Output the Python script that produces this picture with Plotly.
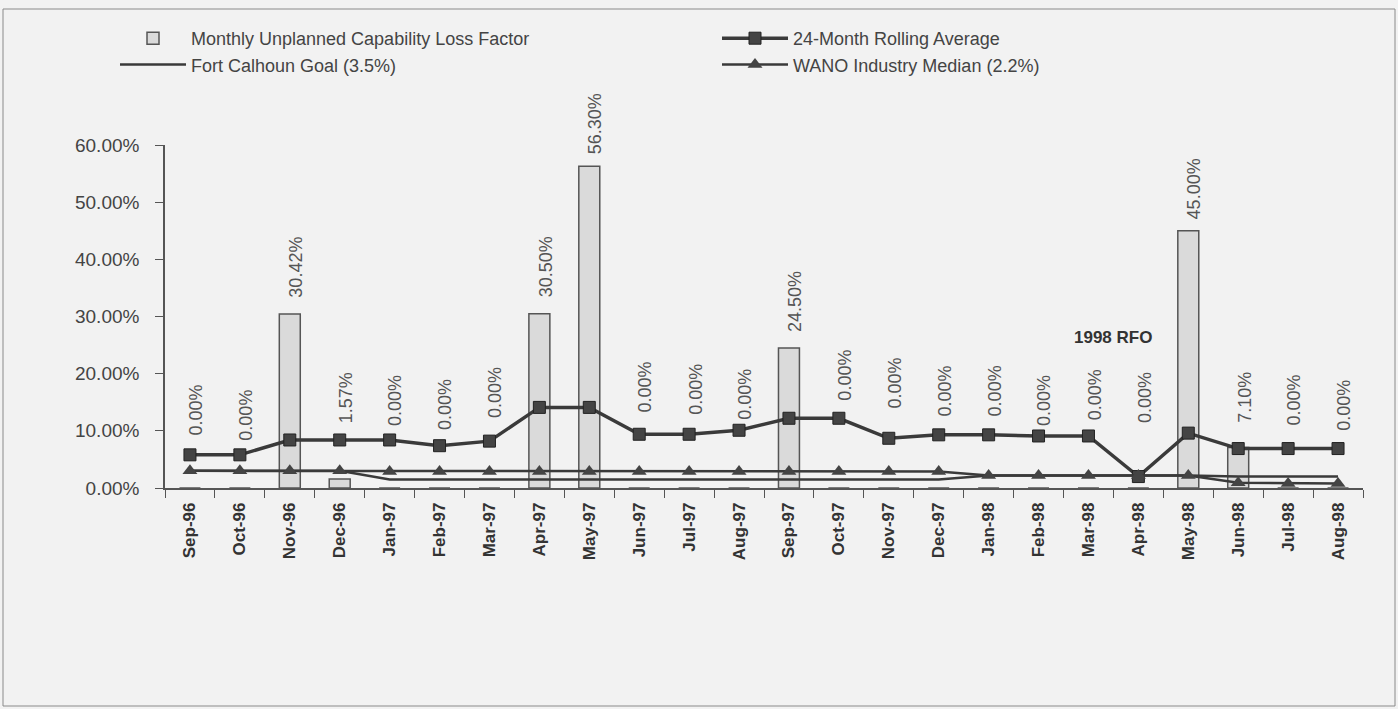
import plotly.graph_objects as go

# Monthly reporting periods
months = ["Sep-96", "Oct-96", "Nov-96", "Dec-96", "Jan-97", "Feb-97", "Mar-97",
          "Apr-97", "May-97", "Jun-97", "Jul-97", "Aug-97", "Sep-97", "Oct-97",
          "Nov-97", "Dec-97", "Jan-98", "Feb-98", "Mar-98", "Apr-98", "May-98",
          "Jun-98", "Jul-98", "Aug-98"]

# Monthly unplanned capability loss factor (%)
monthly_ucl = [0.00, 0.00, 30.42, 1.57, 0.00, 0.00, 0.00, 30.50, 56.30, 0.00,
               0.00, 0.00, 24.50, 0.00, 0.00, 0.00, 0.00, 0.00, 0.00, 0.00,
               45.00, 7.10, 0.00, 0.00]

# 24-month rolling average (%)
rolling_avg = [5.8, 5.8, 8.4, 8.4, 8.4, 7.4, 8.2, 14.1, 14.1, 9.4, 9.4, 10.1,
               12.2, 12.2, 8.7, 9.3, 9.3, 9.1, 9.1, 2.0, 9.6, 6.9, 6.9, 6.9]

# Fort Calhoun goal (%)
goal = [3.0, 3.0, 3.0, 3.0, 1.5, 1.5, 1.5, 1.5, 1.5, 1.5, 1.5, 1.5,
        1.5, 1.5, 1.5, 1.5, 2.2, 2.2, 2.2, 2.2, 2.2, 2.0, 2.0, 2.0]

# WANO industry median (%)
wano_median = [3.0, 3.0, 3.0, 3.0, 2.9, 2.9, 2.9, 2.9, 2.9, 2.9, 2.9, 2.9,
               2.9, 2.9, 2.9, 2.9, 2.2, 2.2, 2.2, 2.2, 2.2, 0.9, 0.8, 0.8]

# Height (in %) at which each monthly value label starts
label_base = [8.9, 8.0, 33.0, 11.0, 10.5, 9.8, 11.9, 33.0, 58.0, 12.8, 12.4, 11.5,
              27.0, 15.0, 13.6, 12.2, 12.2, 10.5, 11.5, 11.0, 46.6, 11.0, 10.5, 9.6]

y_ticks = [0, 10, 20, 30, 40, 50, 60]

FONT = "Arial, Liberation Sans, sans-serif"
INK = "#3a3a3a"
BG = "#f2f2f2"

fig = go.Figure()

fig.add_trace(go.Bar(
    x=months, y=monthly_ucl, name="Monthly Unplanned Capability Loss Factor",
    width=0.42, marker=dict(color="#dadada", line=dict(color="#555555", width=1.5)),
))
fig.add_trace(go.Scatter(
    x=months, y=rolling_avg, name="24-Month Rolling Average", mode="lines+markers",
    line=dict(color=INK, width=3.5),
    marker=dict(symbol="square", size=12, color="#444444", line=dict(color="#222222", width=1)),
))
fig.add_trace(go.Scatter(
    x=months, y=goal, name="Fort Calhoun Goal (3.5%)", mode="lines",
    line=dict(color=INK, width=2.5),
))
fig.add_trace(go.Scatter(
    x=months, y=wano_median, name="WANO Industry Median (2.2%)", mode="lines+markers",
    line=dict(color=INK, width=2.5),
    marker=dict(symbol="triangle-up", size=13, color="#444444"),
))

annotations = []
for m, v, b in zip(months, monthly_ucl, label_base):
    annotations.append(dict(
        x=m, y=b, xref="x", yref="y", text=f"{v:.2f}%", showarrow=False,
        textangle=-90, xanchor="center", yanchor="bottom", xshift=6,
        font=dict(family=FONT, size=18, color="#555555"),
    ))
annotations.append(dict(
    x=18.5, y=26.4, xref="x", yref="y", text="1998 RFO", showarrow=False,
    font=dict(family=FONT, size=17, color="#333333", weight="bold"),
))

W, H = 1398, 709
ML, MR, MT, MB = 165, 35, 145, 221
PW, PH = W - ML - MR, H - MT - MB


def px_x(p):
    return (p - ML) / PW


def px_y(p):
    return (H - MB - p) / PH


fig.update_layout(
    width=W, height=H,
    margin=dict(l=ML, r=MR, t=MT, b=MB),
    paper_bgcolor=BG, plot_bgcolor=BG,
    font=dict(family=FONT, color="#444444"),
    showlegend=True,
    legend=dict(
        orientation="h", x=px_x(115), y=px_y(20), xanchor="left", yanchor="top",
        entrywidth=521, entrywidthmode="pixels", itemwidth=66,
        bgcolor="rgba(0,0,0,0)", traceorder="normal",
        font=dict(family=FONT, size=18, color="#444444"),
    ),
    annotations=annotations,
    shapes=[dict(
        type="rect", xref="paper", yref="paper",
        x0=px_x(3), x1=px_x(1395), y0=px_y(706), y1=px_y(9),
        line=dict(color="#8a8a8a", width=1), layer="below",
    )],
    xaxis=dict(
        type="category", categoryorder="array", categoryarray=months,
        range=[-0.5, len(months) - 0.5],
        tickangle=-90, ticks="outside", tickson="boundaries", ticklen=8,
        tickcolor="#555555", showline=True, linecolor="#555555", linewidth=1.5,
        showgrid=False, zeroline=False, ticklabelstandoff=6,
        tickfont=dict(family=FONT, size=17, color="#333333", weight="bold"),
    ),
    yaxis=dict(
        range=[0, 60], tickvals=y_ticks,
        ticktext=[f"{t:.2f}%" for t in y_ticks],
        ticks="outside", ticklen=8, tickcolor="#555555",
        showline=True, linecolor="#555555", linewidth=1.5,
        showgrid=False, zeroline=False, ticklabelstandoff=12,
        tickfont=dict(family=FONT, size=19, color="#444444"),
    ),
)

fig.write_html("out.html")
